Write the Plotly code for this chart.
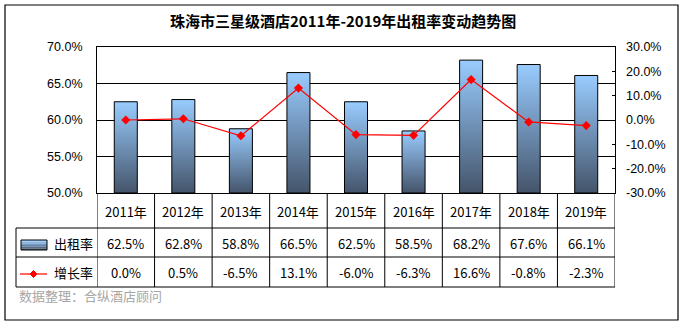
import plotly.graph_objects as go

# ---------------- data ----------------
years = ["2011年", "2012年", "2013年", "2014年", "2015年", "2016年", "2017年", "2018年", "2019年"]
occupancy = [62.5, 62.8, 58.8, 66.5, 62.5, 58.5, 68.2, 67.6, 66.1]
growth = [0.0, 0.5, -6.5, 13.1, -6.0, -6.3, 16.6, -0.8, -2.3]
left_ticks = [50, 55, 60, 65, 70]
right_ticks = [-30, -20, -10, 0, 10, 20, 30]
series_names = ["出租率", "增长率"]
title_text = "珠海市三星级酒店2011年-2019年出租率变动趋势图"
source_text = "数据整理：合纵酒店顾问"

# ---------------- layout geometry (pixels) ----------------
W, H = 684, 326
PL, PR, PT, PB = 97, 615, 47, 193  # plot area


def px(x):
    return (x - PL) / (PR - PL)


def py(y):
    return (PB - y) / (PB - PT)


BAR_W = 0.4
DARK, LIGHT = "#44546A", "#99CCFF"
TXT_FONT = "Microsoft YaHei, Noto Sans CJK SC, sans-serif"

fig = go.Figure()

# bars with vertical gradient
for i, v in enumerate(occupancy):
    fig.add_trace(go.Scatter(
        x=[i - BAR_W / 2, i + BAR_W / 2, i + BAR_W / 2, i - BAR_W / 2, i - BAR_W / 2],
        y=[left_ticks[0], left_ticks[0], v, v, left_ticks[0]],
        mode="lines", fill="toself",
        fillgradient=dict(type="vertical", colorscale=[[0, DARK], [1, LIGHT]]),
        line=dict(color="black", width=1),
        showlegend=False, hoverinfo="skip", xaxis="x", yaxis="y",
    ))

# growth line
fig.add_trace(go.Scatter(
    x=list(range(len(years))), y=growth, mode="lines+markers",
    line=dict(color="#FF0000", width=1.2),
    marker=dict(symbol="diamond", size=7, color="#FF0000"),
    showlegend=False, xaxis="x", yaxis="y2",
))

shapes = []
# outer border
shapes.append(dict(type="rect", xref="paper", yref="paper",
                   x0=px(5), x1=px(678), y0=py(5), y1=py(320),
                   line=dict(color="black", width=1.2), layer="below"))
# table lines
TBL_L, ROW1, ROW2, TBL_B = 16, 228, 257, 287
for i in range(len(years) + 1):
    shapes.append(dict(type="line", xref="x", yref="paper",
                       x0=i - 0.5, x1=i - 0.5, y0=py(PB), y1=py(TBL_B),
                       line=dict(color="black", width=1)))
shapes.append(dict(type="line", xref="paper", yref="paper",
                   x0=px(TBL_L), x1=px(TBL_L), y0=py(ROW1), y1=py(TBL_B),
                   line=dict(color="black", width=1)))
for yy in (ROW1, ROW2, TBL_B):
    shapes.append(dict(type="line", xref="paper", yref="paper",
                       x0=px(TBL_L), x1=px(PR), y0=py(yy), y1=py(yy),
                       line=dict(color="black", width=1)))

# legend swatch (gradient bar)
sx0, sx1, sy0, sy1 = 21, 47, 240, 250
n = 6
def mix(c1, c2, t):
    a = [int(c1[k:k + 2], 16) for k in (1, 3, 5)]
    b = [int(c2[k:k + 2], 16) for k in (1, 3, 5)]
    return "#" + "".join(f"{round(a[j] + (b[j] - a[j]) * t):02x}" for j in range(3))
for k in range(n):
    ya = sy0 + (sy1 - sy0) * k / n
    yb = sy0 + (sy1 - sy0) * (k + 1) / n
    shapes.append(dict(type="rect", xref="paper", yref="paper",
                       x0=px(sx0), x1=px(sx1), y0=py(ya), y1=py(yb),
                       fillcolor=mix(LIGHT, DARK, k / (n - 1)), line=dict(width=0)))
shapes.append(dict(type="rect", xref="paper", yref="paper",
                   x0=px(sx0), x1=px(sx1), y0=py(sy0), y1=py(sy1),
                   line=dict(color="black", width=1)))
# legend line + diamond
ly = 274
shapes.append(dict(type="line", xref="paper", yref="paper",
                   x0=px(20), x1=px(47), y0=py(ly), y1=py(ly),
                   line=dict(color="#FF0000", width=1.2)))
cx, d = 33.5, 3.5
shapes.append(dict(type="path", xref="paper", yref="paper",
                   path=f"M {px(cx - d)} {py(ly)} L {px(cx)} {py(ly - d)} L {px(cx + d)} {py(ly)} L {px(cx)} {py(ly + d)} Z",
                   fillcolor="#FF0000", line=dict(color="#FF0000", width=1)))

annotations = []
annotations.append(dict(text=f"<b>{title_text}</b>", xref="paper", yref="paper",
                        x=px(343), y=py(21), xanchor="center", yanchor="middle",
                        showarrow=False, font=dict(family="Noto Sans CJK SC, sans-serif", size=15, color="black")))
row_y = [(PB + ROW1) / 2, (ROW1 + ROW2) / 2, (ROW2 + TBL_B) / 2]
for i, yr in enumerate(years):
    cells = [yr, f"{occupancy[i]:.1f}%", f"{growth[i]:.1f}%"]
    for r, t in enumerate(cells):
        annotations.append(dict(text=t, xref="x", yref="paper", x=i, y=py(row_y[r] + 0.5),
                                xanchor="center", yanchor="middle", showarrow=False,
                                font=dict(family=TXT_FONT, size=13, color="black")))
for r, name in enumerate(series_names):
    annotations.append(dict(text=name, xref="paper", yref="paper", x=px(52), y=py(row_y[r + 1] + 0.5),
                            xanchor="left", yanchor="middle", showarrow=False,
                            font=dict(family=TXT_FONT, size=13, color="black")))
annotations.append(dict(text=source_text, xref="paper", yref="paper", x=px(17), y=py(295),
                        xanchor="left", yanchor="middle", showarrow=False,
                        font=dict(family=TXT_FONT, size=13, color="#A6A6A6")))

tick_font = dict(family="Liberation Sans, Arial, sans-serif", size=12.5, color="black")
fig.update_layout(
    width=W, height=H,
    margin=dict(l=PL, r=W - PR, t=PT, b=H - PB, pad=0),
    paper_bgcolor="white", plot_bgcolor="white",
    showlegend=False,
    xaxis=dict(range=[-0.5, len(years) - 0.5], showticklabels=False, ticks="",
               showgrid=False, zeroline=False, showline=True, mirror=True,
               linecolor="black", linewidth=1, fixedrange=True),
    yaxis=dict(range=[left_ticks[0], left_ticks[-1]], tickvals=left_ticks,
               ticktext=[f"{v:.1f}%" for v in left_ticks], ticks="",
               showgrid=True, gridcolor="black", gridwidth=1, zeroline=False,
               showline=True, mirror=True, linecolor="black", linewidth=1,
               tickfont=tick_font, ticklabelstandoff=11),
    yaxis2=dict(range=[right_ticks[0], right_ticks[-1]], tickvals=right_ticks,
                ticktext=[f"{v:.1f}%" for v in right_ticks], overlaying="y", side="right",
                ticks="inside", ticklen=3, tickcolor="black", showgrid=False, zeroline=False,
                showline=False, tickfont=tick_font, ticklabelstandoff=10),
    shapes=shapes, annotations=annotations,
)

fig.write_html("out.html")
